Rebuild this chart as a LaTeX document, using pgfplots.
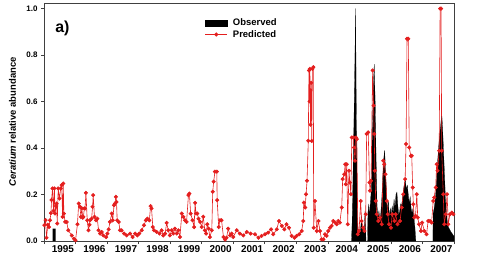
\documentclass[border=0pt]{standalone}
\usepackage{pgfplots}
\pgfplotsset{compat=1.18}
\usepackage{fontspec}
\setmainfont{Liberation Sans}
\definecolor{predred}{RGB}{228,30,30}
\begin{document}
\begin{tikzpicture}
\path[use as bounding box] (-44bp,-21bp) rectangle (453bp,241bp);
\begin{axis}[
  at={(0,0)}, anchor=south west,
  scale only axis, width=410bp, height=238bp,
  xmin=1995, xmax=2008, ymin=0, ymax=1.023,
  axis line style={black!75, line width=0.6bp},
  tick align=outside, xtick pos=bottom, ytick pos=left,
  xtick={1995.6,1996.6,1997.6,1998.6,1999.6,2000.6,2001.6,2002.6,2003.6,2004.6,2005.6,2006.6,2007.6},
  xticklabels={1995,1996,1997,1998,1999,2000,2001,2002,2003,2004,2005,2006,2007},
  minor xtick={1995,1996,...,2008},
  major tick length=0bp, minor tick length=3bp,
  every tick/.style={black!75, line width=0.6bp},
  ytick={0,0.2,0.4,0.6,0.8,1.0},
  minor ytick={0,0.2,0.4,0.6,0.8,1.0},
  y tick label style={/pgf/number format/fixed, /pgf/number format/fixed zerofill, /pgf/number format/precision=1, /pgf/number format/assume math mode=true, font=\bfseries\fontsize{8}{9}\selectfont, xshift=-3bp},
  x tick label style={font=\bfseries\fontsize{10}{11}\selectfont, yshift=-1.5bp},
  ylabel={\textit{Ceratium} relative abundance},
  ylabel style={font=\bfseries\fontsize{9.5}{11}\selectfont, at={(axis description cs:-0.077,0.5)}, anchor=center},
  legend style={draw=none, fill=none, font=\bfseries\fontsize{9.5}{10}\selectfont, at={(axis description cs:0.392,0.94)}, anchor=north west, inner sep=0pt, row sep=0bp, nodes={inner sep=1.5bp}},
  legend cell align=left,
  clip=true,
]
% Observed (black filled)
\addplot[fill=black, draw=none, forget plot] coordinates {
(1995.27,0) (1995.27,0.053) (1995.37,0.053) (1995.37,0)} \closedcycle;
\addplot[fill=black, draw=black, line width=0.2bp, forget plot] coordinates {
(2004.75,0) (2004.77,0.08) (2004.79,0.22) (2004.82,0.45) (2004.85,0.70) (2004.88,1.0)
(2004.90,0.60) (2004.92,0.30) (2004.94,0.10) (2004.96,0.04) (2004.99,0.05) (2005.02,0.03)
(2005.05,0.07) (2005.07,0.11) (2005.09,0.04) (2005.12,0.06) (2005.15,0.03) (2005.18,0.13)
(2005.20,0.05) (2005.21,0)} \closedcycle;
\addplot[fill=black, draw=black, line width=0.2bp, forget plot] coordinates {
(2005.26,0) (2005.27,0.12) (2005.30,0.16) (2005.32,0.10) (2005.35,0.17) (2005.38,0.22)
(2005.41,0.45) (2005.44,0.65) (2005.47,0.76) (2005.50,0.60) (2005.53,0.35) (2005.56,0.15)
(2005.59,0.10) (2005.62,0.13) (2005.65,0.09) (2005.68,0.12) (2005.71,0.18) (2005.74,0.27)
(2005.77,0.35) (2005.80,0.39) (2005.83,0.30) (2005.86,0.20) (2005.89,0.13) (2005.92,0.17)
(2005.95,0.10) (2005.98,0.14) (2006.01,0.11) (2006.04,0.15) (2006.07,0.12) (2006.10,0.18)
(2006.13,0.14) (2006.16,0.20) (2006.19,0.21) (2006.22,0.15) (2006.25,0.11) (2006.28,0.13)
(2006.31,0.16) (2006.34,0.15) (2006.37,0.19) (2006.40,0.22) (2006.43,0.25) (2006.46,0.26)
(2006.49,0.22) (2006.52,0.24) (2006.55,0.20) (2006.58,0.16) (2006.61,0.19) (2006.64,0.14)
(2006.67,0.12) (2006.70,0.14) (2006.73,0.10) (2006.76,0.06) (2006.79,0)} \closedcycle;
\addplot[fill=black, draw=black, line width=0.2bp, forget plot] coordinates {
(2007.33,0) (2007.34,0.12) (2007.37,0.14) (2007.40,0.17) (2007.43,0.22) (2007.46,0.30)
(2007.50,0.38) (2007.54,0.45) (2007.58,0.50) (2007.61,0.55) (2007.64,0.48) (2007.67,0.38)
(2007.70,0.28) (2007.73,0.18) (2007.76,0.12) (2007.79,0.08) (2007.82,0.06) (2007.86,0.05)
(2007.90,0.04) (2007.95,0.03) (2008.0,0.02)} \closedcycle;
% Predicted (red line with markers)
\addplot[predred, line width=0.6bp, mark=*, mark size=1.7bp, mark options={fill=predred, draw=predred}, forget plot] coordinates {
(1995.01,0.068) (1995.05,0.09) (1995.08,0.014) (1995.12,0.07) (1995.16,0.06) (1995.19,0.089)
(1995.22,0.12) (1995.24,0.176) (1995.27,0.226) (1995.30,0.13) (1995.33,0.226) (1995.35,0.118)
(1995.38,0.15) (1995.40,0.161) (1995.42,0.075) (1995.45,0.226) (1995.49,0.183) (1995.53,0.226)
(1995.56,0.240) (1995.59,0.104) (1995.61,0.247) (1995.63,0.118) (1995.67,0.082) (1995.72,0.082)
(1995.77,0.046) (1995.88,0.024) (1995.95,0.010) (1996.00,0.003) (1996.06,0.072) (1996.10,0.161)
(1996.14,0.147) (1996.17,0.104) (1996.20,0.140) (1996.23,0.10) (1996.25,0.104) (1996.28,0.14)
(1996.30,0.140) (1996.33,0.207) (1996.37,0.089) (1996.41,0.046) (1996.44,0.07) (1996.46,0.089)
(1996.51,0.096) (1996.54,0.147) (1996.56,0.197) (1996.60,0.104) (1996.65,0.089) (1996.69,0.096)
(1996.73,0.046) (1996.78,0.032) (1996.83,0.039) (1996.88,0.024) (1996.97,0.017) (1997.01,0.032)
(1997.05,0.05) (1997.09,0.082) (1997.15,0.118) (1997.18,0.089) (1997.22,0.154) (1997.25,0.161)
(1997.28,0.190) (1997.30,0.168) (1997.32,0.089) (1997.37,0.082) (1997.41,0.046) (1997.46,0.046)
(1997.54,0.032) (1997.62,0.024) (1997.73,0.032) (1997.81,0.017) (1997.89,0.032) (1997.96,0.024)
(1998.02,0.032) (1998.10,0.046) (1998.17,0.068) (1998.23,0.089) (1998.28,0.096) (1998.34,0.089)
(1998.38,0.150) (1998.41,0.140) (1998.45,0.060) (1998.49,0.046) (1998.57,0.039) (1998.66,0.032)
(1998.73,0.046) (1998.78,0.024) (1998.84,0.032) (1998.89,0.078) (1998.94,0.046) (1998.99,0.024)
(1999.05,0.046) (1999.10,0.032) (1999.15,0.053) (1999.21,0.032) (1999.26,0.046) (1999.31,0.017)
(1999.37,0.118) (1999.42,0.104) (1999.47,0.089) (1999.52,0.082) (1999.58,0.197) (1999.61,0.204)
(1999.65,0.118) (1999.71,0.089) (1999.76,0.060) (1999.79,0.164) (1999.82,0.118) (1999.86,0.118)
(1999.90,0.096) (1999.95,0.082) (2000.00,0.060) (2000.05,0.104) (2000.10,0.046) (2000.14,0.032)
(2000.18,0.072) (2000.22,0.053) (2000.26,0.017) (2000.32,0.046) (2000.35,0.212) (2000.38,0.255)
(2000.42,0.298) (2000.48,0.298) (2000.49,0.176) (2000.54,0.060) (2000.58,0.089) (2000.63,0.089)
(2000.69,0.017) (2000.74,0.006) (2000.79,0.014) (2000.84,0.053) (2000.90,0.024) (2000.95,0.032)
(2001.00,0.017) (2001.11,0.046) (2001.21,0.032) (2001.32,0.024) (2001.43,0.039) (2001.55,0.032)
(2001.69,0.029) (2001.80,0.014) (2001.90,0.022) (2002.01,0.029) (2002.11,0.036) (2002.20,0.050)
(2002.27,0.029) (2002.38,0.050) (2002.45,0.086) (2002.54,0.065) (2002.62,0.050) (2002.69,0.072)
(2002.77,0.057) (2002.85,0.022) (2002.94,0.014) (2003.01,0.022) (2003.09,0.029) (2003.17,0.043)
(2003.22,0.086) (2003.24,0.165) (2003.28,0.144) (2003.31,0.201) (2003.34,0.259) (2003.38,0.431)
(2003.40,0.733) (2003.42,0.60) (2003.43,0.740) (2003.45,0.50) (2003.47,0.68) (2003.49,0.43)
(2003.51,0.740) (2003.54,0.747) (2003.55,0.057) (2003.59,0.172) (2003.65,0.043) (2003.70,0.086)
(2003.75,0.043) (2003.80,0.007) (2003.86,0.007) (2003.91,0.029) (2003.96,0.022) (2004.01,0.043)
(2004.07,0.057) (2004.12,0.065) (2004.17,0.086) (2004.23,0.079) (2004.28,0.072) (2004.33,0.086)
(2004.38,0.079) (2004.44,0.144) (2004.47,0.266) (2004.52,0.287) (2004.55,0.330) (2004.57,0.244)
(2004.60,0.330) (2004.63,0.072) (2004.67,0.302) (2004.70,0.251) (2004.73,0.201) (2004.76,0.445)
(2004.81,0.445) (2004.83,0.402) (2004.86,0.345) (2004.89,0.445) (2004.92,0.438) (2004.95,0.029)
(2004.99,0.043) (2005.04,0.172) (2005.07,0.086) (2005.12,0.057) (2005.16,0.043) (2005.20,0.115)
(2005.23,0.460) (2005.28,0.467) (2005.32,0.251) (2005.34,0.216) (2005.37,0.259) (2005.42,0.733)
(2005.45,0.582) (2005.47,0.460) (2005.49,0.302) (2005.52,0.172) (2005.55,0.115) (2005.60,0.086)
(2005.65,0.101) (2005.71,0.072) (2005.76,0.345) (2005.79,0.330) (2005.83,0.287) (2005.87,0.172)
(2005.90,0.115) (2005.94,0.072) (2006.00,0.057) (2006.04,0.115) (2006.11,0.086) (2006.15,0.115)
(2006.21,0.072) (2006.29,0.086) (2006.34,0.144) (2006.39,0.201) (2006.45,0.266) (2006.48,0.417)
(2006.51,0.869) (2006.55,0.869) (2006.58,0.402) (2006.63,0.366) (2006.66,0.366) (2006.69,0.230)
(2006.71,0.158) (2006.74,0.101) (2006.78,0.108) (2006.82,0.201) (2006.85,0.101) (2006.89,0.072)
(2006.95,0.043) (2006.99,0.079) (2007.06,0.043) (2007.13,0.029) (2007.18,0.086) (2007.24,0.086)
(2007.29,0.079) (2007.34,0.172) (2007.37,0.187) (2007.42,0.230) (2007.45,0.330) (2007.48,0.302)
(2007.53,0.388) (2007.56,0.999) (2007.59,0.999) (2007.61,0.388) (2007.66,0.201) (2007.69,0.072)
(2007.74,0.115) (2007.78,0.201) (2007.82,0.072) (2007.87,0.115) (2007.93,0.122) (2007.98,0.115)};
\addlegendimage{legend image code/.code={\fill[black] (0bp,-3bp) rectangle (22bp,3bp); \path (26bp,0bp);}}
\addlegendentry{Observed}
\addlegendimage{legend image code/.code={\draw[predred, line width=0.7bp] (0bp,0bp) -- (22bp,0bp); \fill[predred] (11bp,0bp) circle (1.9bp); \path (26bp,0bp);}}
\addlegendentry{Predicted}
\node[font=\bfseries\fontsize{16}{18}\selectfont] at (axis description cs:0.045,0.895) {a)};
\end{axis}
\end{tikzpicture}
\end{document}
